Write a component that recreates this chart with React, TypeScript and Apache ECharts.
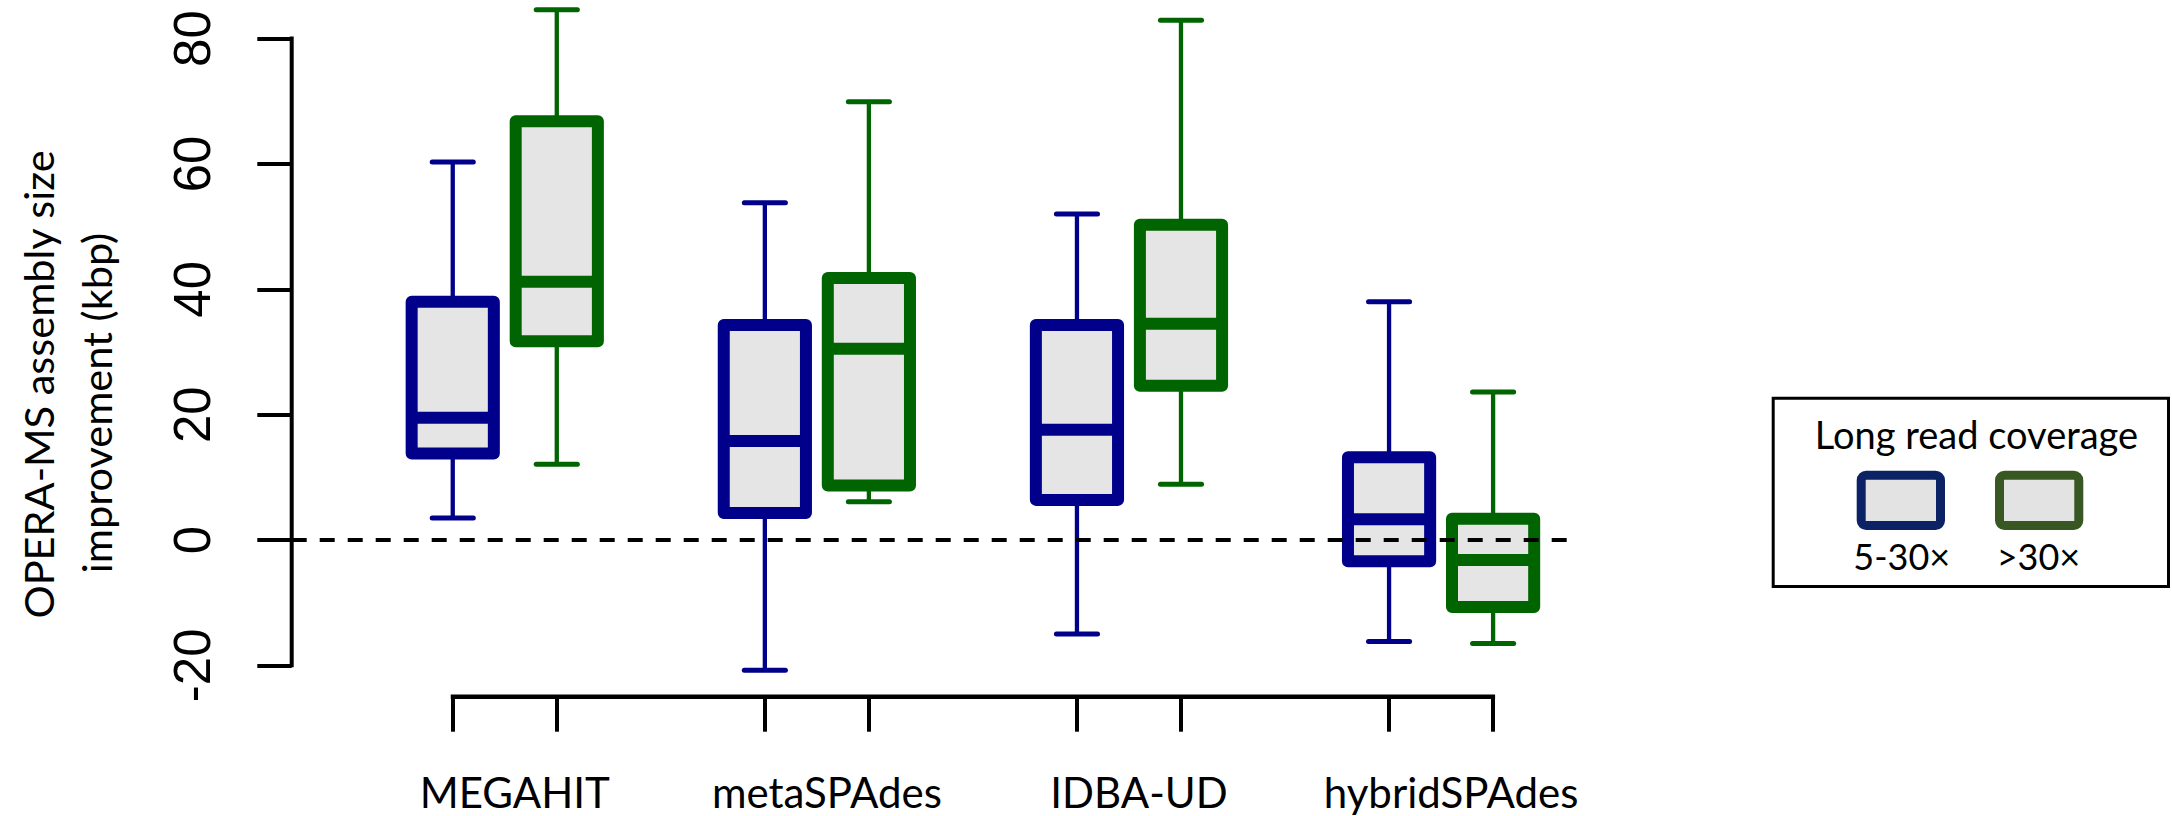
import React, { useEffect, useRef } from "react";
import * as echarts from "echarts";

// ---------- data ----------
const assemblers = ["MEGAHIT", "metaSPAdes", "IDBA-UD", "hybridSPAdes"];
const coverageLabels = ["5-30×", ">30×"];
const legendTitle = "Long read coverage";
const yTitleLines = ["OPERA-MS assembly size", "improvement (kbp)"];
const yTickValues = [-20, 0, 20, 40, 60, 80];

// box positions along the x axis (like R boxplot "at")
const lowPositions = [1, 4, 7, 10];
const highPositions = [2, 5, 8, 11];
const labelPositions = [1.5, 4.5, 7.5, 10.5];

// [min, Q1, median, Q3, max] (kbp)
const lowStats = [
  [3.5, 13.8, 19.5, 38.0, 60.3],
  [-20.8, 4.3, 15.8, 34.3, 53.8],
  [-15.0, 6.4, 17.6, 34.3, 52.0],
  [-16.2, -3.4, 3.3, 13.2, 38.0],
];
const highStats = [
  [12.1, 31.7, 41.2, 66.8, 84.6],
  [6.1, 8.7, 30.5, 41.8, 69.9],
  [8.9, 24.6, 34.5, 50.3, 82.9],
  [-16.5, -10.7, -3.2, 3.4, 23.6],
];

// ---------- style ----------
const X_MIN = -0.548;
const X_MAX = 11.72;
const Y_MIN = -25;
const Y_MAX = 85;
const BOX_WIDTH = 0.79;
const BLUE = "#00008B";
const GREEN = "#006400";
const FILL = "#E5E5E5";
const SANS_CAL = "Lato, 'Open Sans', sans-serif";
const SANS_ARIAL = "'Liberation Sans', Arial, sans-serif";

function boxRenderer(color: string) {
  return (params: any, api: any) => {
    const pos = api.value(0);
    const mn = api.value(1);
    const q1 = api.value(2);
    const md = api.value(3);
    const q3 = api.value(4);
    const mx = api.value(5);
    const cx = api.coord([pos, md])[0];
    const halfW = api.size([BOX_WIDTH, 0])[0] / 2;
    const capHalf = halfW * 0.5;
    const y = (v: number) => api.coord([pos, v])[1];
    const whisk = { stroke: color, lineWidth: 4.3 };
    const cap = { stroke: color, lineWidth: 5, lineCap: "round" };
    return {
      type: "group",
      children: [
        { type: "line", shape: { x1: cx, y1: y(q3), x2: cx, y2: y(mx) }, style: whisk },
        { type: "line", shape: { x1: cx, y1: y(q1), x2: cx, y2: y(mn) }, style: whisk },
        { type: "line", shape: { x1: cx - capHalf, y1: y(mx), x2: cx + capHalf, y2: y(mx) }, style: cap },
        { type: "line", shape: { x1: cx - capHalf, y1: y(mn), x2: cx + capHalf, y2: y(mn) }, style: cap },
        {
          type: "rect",
          shape: { x: cx - halfW, y: y(q3), width: halfW * 2, height: y(q1) - y(q3) },
          style: { fill: FILL, stroke: color, lineWidth: 12, lineJoin: "round" },
        },
        {
          type: "line",
          shape: { x1: cx - halfW, y1: y(md), x2: cx + halfW, y2: y(md) },
          style: { stroke: color, lineWidth: 12 },
        },
      ],
    };
  };
}

export default function App() {
  const ref = useRef<HTMLDivElement>(null);

  useEffect(() => {
    if (!ref.current) return;
    const chart = echarts.init(ref.current, undefined, { renderer: "svg" });
    const allPositions = [...lowPositions, ...highPositions].sort((a, b) => a - b);

    const lowData = lowPositions.map((p, i) => [p, ...lowStats[i]]);
    const highData = highPositions.map((p, i) => [p, ...highStats[i]]);

    const option: any = {
      animation: false,
      backgroundColor: "#ffffff",
      grid: { left: 291.7, top: 7.2, width: 1276.3, height: 689.5 },
      xAxis: {
        type: "value",
        min: X_MIN,
        max: X_MAX,
        splitLine: { show: false },
        axisLine: { show: false, onZero: false },
        axisTick: {
          show: true,
          customValues: allPositions,
          length: 35,
          lineStyle: { color: "#000", width: 4 },
        },
        axisLabel: {
          customValues: labelPositions,
          formatter: (v: number) => {
            const i = labelPositions.findIndex((p) => Math.abs(p - v) < 1e-6);
            return i >= 0 ? assemblers[i] : "";
          },
          margin: 74,
          color: "#000",
          fontSize: 42,
          lineHeight: 42,
          fontFamily: SANS_CAL,
          padding: [0, 0, 0, 20],
        },
      },
      yAxis: {
        type: "value",
        min: Y_MIN,
        max: Y_MAX,
        splitLine: { show: false },
        axisLine: { show: false, onZero: false },
        axisTick: {
          show: true,
          customValues: yTickValues,
          length: 34.4,
          lineStyle: { color: "#000", width: 4 },
        },
        axisLabel: {
          customValues: yTickValues,
          rotate: 90,
          margin: 74,
          color: "#000",
          fontSize: 51,
          fontFamily: SANS_ARIAL,
        },
      },
      series: [
        {
          type: "custom",
          name: "axes",
          silent: true,
          data: [[0, 0]],
          encode: { x: 0, y: 1 },
          renderItem: (params: any, api: any) => {
            const yb = api.coord([X_MIN, yTickValues[0]]);
            const yt = api.coord([X_MIN, yTickValues[yTickValues.length - 1]]);
            const xl = api.coord([allPositions[0], Y_MIN]);
            const xr = api.coord([allPositions[allPositions.length - 1], Y_MIN]);
            return {
              type: "group",
              children: [
                {
                  type: "line",
                  shape: { x1: yb[0], y1: yb[1] + 2, x2: yt[0], y2: yt[1] - 2 },
                  style: { stroke: "#000", lineWidth: 4 },
                },
                {
                  type: "line",
                  shape: { x1: xl[0] - 2, y1: xl[1], x2: xr[0] + 2, y2: xr[1] },
                  style: { stroke: "#000", lineWidth: 4.5 },
                },
              ],
            };
          },
          markLine: {
            silent: true,
            symbol: "none",
            label: { show: false },
            lineStyle: { color: "#000", width: 4, type: [15, 13] },
            data: [{ yAxis: 0 }],
          },
        },
        {
          type: "custom",
          name: coverageLabels[0],
          data: lowData,
          encode: { x: 0, y: [1, 2, 3, 4, 5] },
          renderItem: boxRenderer(BLUE),
        },
        {
          type: "custom",
          name: coverageLabels[1],
          data: highData,
          encode: { x: 0, y: [1, 2, 3, 4, 5] },
          renderItem: boxRenderer(GREEN),
        },
      ],
      graphic: [
        {
          type: "text",
          x: 38,
          y: 384.5,
          rotation: Math.PI / 2,
          style: {
            text: yTitleLines[0],
            fontSize: 41.5,
            fontFamily: SANS_CAL,
            fill: "#000",
            align: "center",
            verticalAlign: "middle",
          },
        },
        {
          type: "text",
          x: 96,
          y: 403,
          rotation: Math.PI / 2,
          style: {
            text: yTitleLines[1],
            fontSize: 41.5,
            fontFamily: SANS_CAL,
            fill: "#000",
            align: "center",
            verticalAlign: "middle",
          },
        },
        {
          type: "rect",
          shape: { x: 1773.2, y: 398.2, width: 395.3, height: 188.3 },
          style: { fill: "#fff", stroke: "#000", lineWidth: 3 },
        },
        {
          type: "text",
          x: 1976.5,
          y: 434,
          style: {
            text: legendTitle,
            fontSize: 38,
            fontFamily: SANS_CAL,
            fill: "#000",
            align: "center",
            verticalAlign: "middle",
          },
        },
        {
          type: "rect",
          shape: { x: 1861.2, y: 475.2, width: 79.3, height: 50.3, r: 5 },
          style: { fill: "#E3E3E3", stroke: "#0B2265", lineWidth: 9 },
        },
        {
          type: "rect",
          shape: { x: 1999.5, y: 475.2, width: 79.3, height: 50.3, r: 5 },
          style: { fill: "#E3E3E3", stroke: "#385723", lineWidth: 9 },
        },
        {
          type: "text",
          x: 1901.7,
          y: 556,
          style: {
            text: coverageLabels[0],
            fontSize: 36,
            fontFamily: SANS_CAL,
            fill: "#000",
            align: "center",
            verticalAlign: "middle",
          },
        },
        {
          type: "text",
          x: 2038.5,
          y: 556,
          style: {
            text: coverageLabels[1],
            fontSize: 36,
            fontFamily: SANS_CAL,
            fill: "#000",
            align: "center",
            verticalAlign: "middle",
          },
        },
      ],
    };

    chart.setOption(option);
    return () => chart.dispose();
  }, []);

  return (
    <div
      ref={ref}
      style={{
        position: "fixed",
        left: 0,
        top: 0,
        width: "2172px",
        height: "816px",
        background: "#fff",
      }}
    />
  );
}
